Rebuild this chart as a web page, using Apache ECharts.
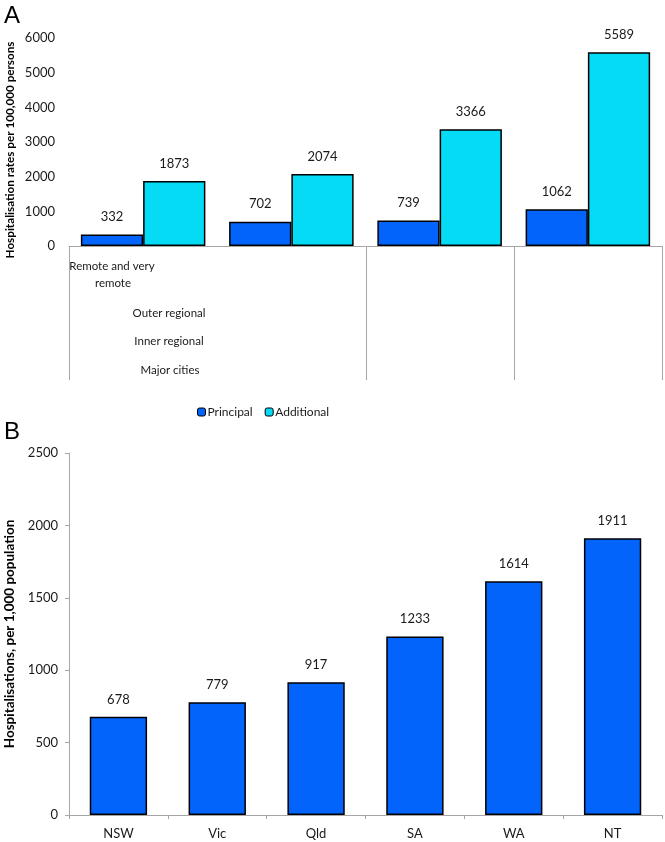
<!DOCTYPE html>
<html><head><meta charset="utf-8">
<script src="https://cdn.jsdelivr.net/npm/echarts@6/dist/echarts.min.js"></script>
<style>html,body{margin:0;padding:0;background:#fff}#c{width:665px;height:842px}</style>
</head><body><div id="c"></div>
<script>
const regionCategories = ["Remote and very remote", "Outer regional", "Inner regional", "Major cities"];
const principalValues = [332, 702, 739, 1062];
const additionalValues = [1873, 2074, 3366, 5589];
const stateCategories = ["NSW", "Vic", "Qld", "SA", "WA", "NT"];
const stateValues = [678, 779, 917, 1233, 1614, 1911];
const yTicksA = [0, 1000, 2000, 3000, 4000, 5000, 6000];
const yTicksB = [0, 500, 1000, 1500, 2000, 2500];

const FONT = 'Lato';
const TXT = '#1a1a1a';
const AX = '#a6a6a6';
const C1 = '#0364fb';
const C2 = '#05dbf5';

const gA = {left: 69, top: 38, width: 593, height: 208};
const gB = {left: 69, top: 453, width: 593, height: 362};

const chart = echarts.init(document.getElementById('c'), null, {renderer: 'canvas'});

const catW = gA.width / regionCategories.length;
const sepIdx = [0, 2, 3, 4];
const tableBottom = 380;
const graphics = [];
sepIdx.forEach(i => {
  const x = Math.round(gA.left + catW * i) + 0.5;
  graphics.push({type: 'line', shape: {x1: x, y1: gA.top + gA.height, x2: x, y2: tableBottom}, style: {stroke: AX, lineWidth: 1}});
});
const labelStyle = {fill: TXT, fontSize: 11.5, fontFamily: FONT, textAlign: 'center', textVerticalAlign: 'middle'};
graphics.push({type: 'text', x: 112, y: 266, style: Object.assign({text: 'Remote and very'}, labelStyle)});
graphics.push({type: 'text', x: 113, y: 283, style: Object.assign({text: 'remote'}, labelStyle)});
graphics.push({type: 'text', x: 169, y: 313, style: Object.assign({text: regionCategories[1]}, labelStyle)});
graphics.push({type: 'text', x: 169, y: 341, style: Object.assign({text: regionCategories[2]}, labelStyle)});
graphics.push({type: 'text', x: 170, y: 370, style: Object.assign({text: regionCategories[3]}, labelStyle)});
graphics.push({type: 'text', x: 4, y: 16, style: {text: 'A', fill: '#000', fontSize: 24, fontFamily: 'Liberation Sans', textVerticalAlign: 'middle'}});
graphics.push({type: 'text', x: 4, y: 432, style: {text: 'B', fill: '#000', fontSize: 24, fontFamily: 'Liberation Sans', textVerticalAlign: 'middle'}});
graphics.push({type: 'text', x: 10, y: 150, rotation: Math.PI / 2,
  style: {text: 'Hospitalisation rates per 100,000 persons', fill: '#000', fontSize: 11.7, fontWeight: 'bold', fontFamily: FONT, textAlign: 'center', textVerticalAlign: 'middle'}});

const barLabel = {show: true, position: 'top', distance: 11, color: TXT, fontSize: 13, fontFamily: FONT};
const plain = v => String(v);

chart.setOption({
  animation: false,
  textStyle: {fontFamily: FONT},
  grid: [
    Object.assign({containLabel: false, outerBoundsMode: 'none'}, gA),
    Object.assign({containLabel: false, outerBoundsMode: 'none'}, gB)
  ],
  legend: {
    left: 192, top: 401, itemWidth: 8, itemHeight: 8, itemGap: 12,
    textStyle: {color: TXT, fontSize: 12, fontFamily: FONT, padding: [0, 0, 0, -3]},
    data: [
      {name: 'Principal', itemStyle: {color: C1, borderColor: '#000', borderWidth: 1}},
      {name: 'Additional', itemStyle: {color: C2, borderColor: '#000', borderWidth: 1}}
    ]
  },
  xAxis: [
    {gridIndex: 0, type: 'category', data: regionCategories,
     axisLine: {show: true, lineStyle: {color: AX, width: 1}}, axisTick: {show: false}, axisLabel: {show: false}},
    {gridIndex: 1, type: 'category', data: stateCategories,
     axisLine: {show: true, lineStyle: {color: AX, width: 1}},
     axisTick: {show: true, length: 4, lineStyle: {color: AX}},
     axisLabel: {color: TXT, fontSize: 13, fontFamily: FONT, margin: 12}}
  ],
  yAxis: [
    {gridIndex: 0, type: 'value', min: yTicksA[0], max: yTicksA[yTicksA.length - 1], interval: 1000,
     axisLine: {show: false}, axisTick: {show: false}, splitLine: {show: false},
     axisLabel: {color: TXT, fontSize: 13, fontFamily: FONT, margin: 14, formatter: plain}},
    {gridIndex: 1, type: 'value', min: yTicksB[0], max: yTicksB[yTicksB.length - 1], interval: 500,
     axisLine: {show: true, lineStyle: {color: AX, width: 1}},
     axisTick: {show: true, length: 4, lineStyle: {color: AX}}, splitLine: {show: false},
     axisLabel: {color: TXT, fontSize: 13, fontFamily: FONT, margin: 11, formatter: plain},
     name: 'Hospitalisations, per 1,000 population', nameLocation: 'middle', nameGap: 52,
     nameTextStyle: {color: '#000', fontSize: 13.5, fontWeight: 'bold', fontFamily: FONT}}
  ],
  series: [
    {name: 'Principal', type: 'bar', xAxisIndex: 0, yAxisIndex: 0, data: principalValues,
     barCategoryGap: '16%', barGap: '0%',
     itemStyle: {color: C1, borderColor: '#000', borderWidth: 1.5}, label: barLabel},
    {name: 'Additional', type: 'bar', xAxisIndex: 0, yAxisIndex: 0, data: additionalValues,
     barCategoryGap: '16%', barGap: '0%',
     itemStyle: {color: C2, borderColor: '#000', borderWidth: 1.5}, label: barLabel},
    {name: 'State', type: 'bar', xAxisIndex: 1, yAxisIndex: 1, data: stateValues,
     barCategoryGap: '42%',
     itemStyle: {color: C1, borderColor: '#000', borderWidth: 1.5}, label: barLabel}
  ],
  graphic: graphics
});
</script>
</body></html>
